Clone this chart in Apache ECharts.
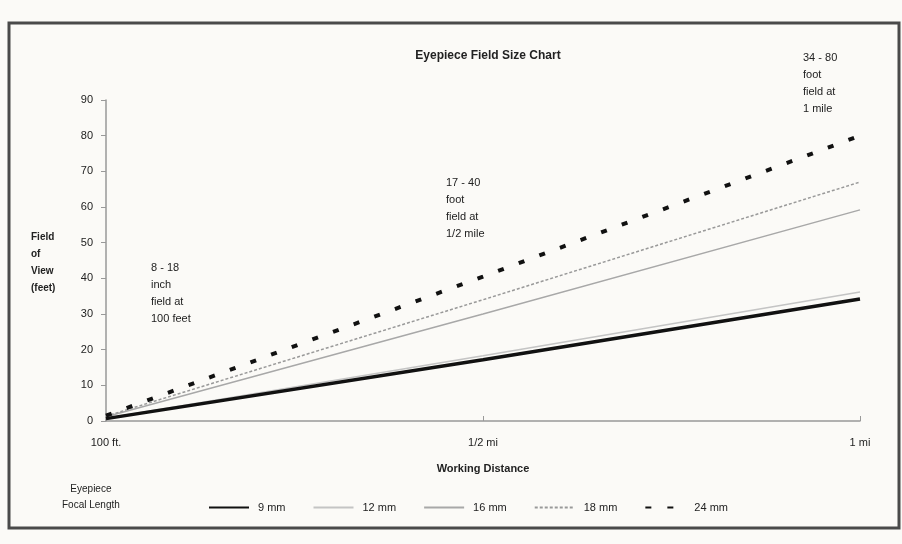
<!DOCTYPE html>
<html>
<head>
<meta charset="utf-8">
<script src="https://cdn.jsdelivr.net/npm/echarts@6/dist/echarts.min.js"></script>
<style>
html,body{margin:0;padding:0;background:#fbfaf7;}
#c{width:902px;height:544px;}
</style>
</head>
<body>
<div id="c"></div>
<script>
const categories = ['100 ft.', '1/2 mi', '1 mi'];
const seriesNames = ['9 mm', '12 mm', '16 mm', '18 mm', '24 mm'];
const mm9 = [0.67, 17.2, 34.2];
const mm12 = [0.75, 18.3, 36.2];
const mm16 = [1.2, 30, 59.2];
const mm18 = [1.35, 34, 67];
const mm24 = [1.5, 40.5, 80];
const yTicks = [0, 90, 10];

const FONT = '"Liberation Sans", Arial, sans-serif';
const chart = echarts.init(document.getElementById('c'));

function annot(x, y, text) {
  return {
    type: 'text', left: x, top: y,
    style: { text: text, font: '11px ' + FONT, fill: '#222', lineHeight: 17 }
  };
}

chart.setOption({
  backgroundColor: '#fbfaf7',
  animation: false,
  title: {
    text: 'Eyepiece Field Size Chart',
    left: 483, top: 45, textAlign: 'center',
    textStyle: { fontFamily: FONT, fontSize: 12, fontWeight: 'bold', color: '#222' }
  },
  grid: { left: 106, right: 42, top: 100, bottom: 123, containLabel: false },
  xAxis: {
    type: 'category',
    data: categories,
    boundaryGap: false,
    name: 'Working Distance',
    nameLocation: 'middle',
    nameGap: 42,
    nameTextStyle: { fontFamily: FONT, fontSize: 11, fontWeight: 'bold', color: '#222' },
    axisLine: { lineStyle: { color: '#999', width: 1.5 } },
    axisTick: { show: true, length: 5, inside: true, lineStyle: { color: '#999' } },
    axisLabel: { fontFamily: FONT, fontSize: 11, color: '#222', margin: 16 },
    splitLine: { show: false }
  },
  yAxis: {
    type: 'value',
    min: yTicks[0], max: yTicks[1], interval: yTicks[2],
    axisLine: { show: true, lineStyle: { color: '#999', width: 1.5 } },
    axisTick: { show: true, length: 5, lineStyle: { color: '#999' } },
    axisLabel: { fontFamily: FONT, fontSize: 11, color: '#222', margin: 13 },
    splitLine: { show: false }
  },
  legend: {
    left: 203, top: 497,
    itemWidth: 40, itemHeight: 10, itemGap: 27,
    itemStyle: { opacity: 0 },
    textStyle: { fontFamily: FONT, fontSize: 11, color: '#222', padding: [0, 0, 0, 4] },
    data: seriesNames
  },
  graphic: [
    {
      type: 'rect', shape: { x: 9, y: 23, width: 890, height: 505 },
      style: { fill: 'none', stroke: '#4a4a4a', lineWidth: 3 }
    },
    {
      type: 'text', left: 31, top: 229,
      style: { text: 'Field\nof\nView\n(feet)', font: 'bold 10px ' + FONT, fill: '#222', lineHeight: 17 }
    },
    {
      type: 'text', left: 62, top: 481,
      style: { text: 'Eyepiece\nFocal Length', font: '10px ' + FONT, fill: '#222', lineHeight: 16, textAlign: 'center', x: 30 }
    },
    annot(151, 259, '8 - 18\ninch\nfield at\n100 feet'),
    annot(446, 174, '17 - 40\nfoot\nfield at\n1/2 mile'),
    annot(803, 49, '34 - 80\nfoot\nfield at\n1 mile')
  ],
  series: [
    { name: seriesNames[0], type: 'line', data: mm9, symbol: 'none', z: 5,
      lineStyle: { color: '#111', width: 3.5 }, itemStyle: { color: '#111' } },
    { name: seriesNames[1], type: 'line', data: mm12, symbol: 'none',
      lineStyle: { color: '#c4c4c4', width: 1.5 }, itemStyle: { color: '#c4c4c4' } },
    { name: seriesNames[2], type: 'line', data: mm16, symbol: 'none',
      lineStyle: { color: '#a8a8a8', width: 1.5 }, itemStyle: { color: '#a8a8a8' } },
    { name: seriesNames[3], type: 'line', data: mm18, symbol: 'none',
      lineStyle: { color: '#999', width: 1.5, type: [3, 2] }, itemStyle: { color: '#999' } },
    { name: seriesNames[4], type: 'line', data: mm24, symbol: 'none',
      lineStyle: { color: '#111', width: 4, type: [6, 16] }, itemStyle: { color: '#111' } }
  ]
});
</script>
</body>
</html>
